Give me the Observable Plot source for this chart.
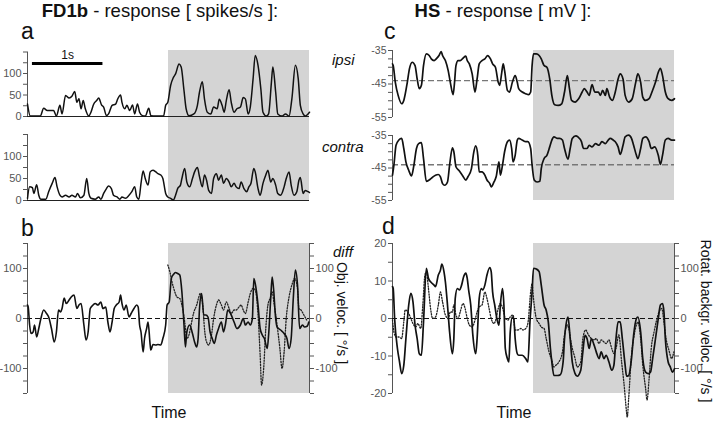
<!DOCTYPE html>
<html><head><meta charset="utf-8">
<script src="https://cdn.jsdelivr.net/npm/d3@7"></script>
<script src="https://cdn.jsdelivr.net/npm/@observablehq/plot@0.6"></script>
<style>
html,body{margin:0;padding:0;background:#fff;}
#fig{position:relative;width:720px;height:421px;overflow:hidden;font-family:"Liberation Sans",Arial,sans-serif;}
#fig svg{position:absolute;left:0;top:0;}
</style></head><body><div id="fig"></div>
<script>
// ---------- data (time in s) ----------
const timeDomain = [0, 4];
const stimulus = [{start: 2, end: 4}];
const scaleBar = [{t0: 0.07, t1: 1.07, level: 123, label: "1s"}];

const fdTicks = [0, 25, 50, 75, 100, 125, 150];
const fdLabels = [0, 50, 100];
const hsTicks = [-55, -52.5, -50, -47.5, -45, -42.5, -40, -37.5, -35];
const hsLabels = [-55, -45, -35];
const velTicks = [-150, -125, -100, -75, -50, -25, 0, 25, 50, 75, 100, 125, 150];
const velLabels = [-100, 0, 100];
const mvTicks = [-20, -15, -10, -5, 0, 5, 10, 15, 20];
const mvLabels = [-20, -10, 0, 10, 20];
const hsRest = [-44];

// FD1b ipsi [spikes/s]
const fdIpsi = [[0,29],[0.04,1],[0.18,1],[0.23,19],[0.28,14],[0.37,14],[0.41,1],[0.46,26],[0.49,6],[0.54,49],[0.59,43],[0.63,47],[0.67,58],[0.70,33],[0.73,41],[0.76,18],[0.79,37],[0.82,18],[0.87,1],[0.90,10],[0.94,29],[0.98,37],[1.01,43],[1.05,27],[1.08,22],[1.12,2],[1.15,6],[1.20,26],[1.25,29],[1.28,41],[1.32,50],[1.34,33],[1.38,18],[1.41,26],[1.45,14],[1.49,27],[1.52,6],[1.56,29],[1.59,10],[1.63,2],[1.67,1],[1.72,19],[1.75,2],[1.82,1],[1.93,1],[1.96,26],[1.99,33],[2.03,72],[2.07,91],[2.10,99],[2.15,122],[2.18,115],[2.22,60],[2.25,18],[2.29,2],[2.36,6],[2.41,26],[2.44,57],[2.48,81],[2.51,41],[2.55,10],[2.60,6],[2.64,22],[2.69,18],[2.72,40],[2.76,26],[2.79,10],[2.82,37],[2.86,62],[2.89,33],[2.93,10],[2.97,18],[3.02,22],[3.06,44],[3.09,41],[3.13,6],[3.16,22],[3.20,88],[3.23,142],[3.27,119],[3.31,64],[3.34,10],[3.39,1],[3.42,6],[3.46,80],[3.48,115],[3.52,57],[3.55,6],[3.61,1],[3.66,6],[3.71,1],[3.75,41],[3.80,119],[3.84,88],[3.87,26],[3.91,6],[3.94,1],[3.98,6],[4.00,10]];
// FD1b contra [spikes/s]
const fdContra = [[0,5],[0.03,31],[0.07,29],[0.09,16],[0.13,36],[0.16,12],[0.19,3],[0.26,3],[0.30,20],[0.35,39],[0.39,52],[0.42,31],[0.46,12],[0.49,8],[0.54,12],[0.59,8],[0.63,12],[0.68,8],[0.71,16],[0.75,6],[0.80,12],[0.84,50],[0.87,16],[0.90,5],[0.96,3],[1.01,8],[1.04,3],[1.08,16],[1.12,27],[1.15,33],[1.19,27],[1.22,12],[1.27,8],[1.31,3],[1.34,8],[1.39,5],[1.44,12],[1.48,20],[1.52,31],[1.55,8],[1.58,3],[1.61,39],[1.64,67],[1.67,50],[1.71,35],[1.74,65],[1.78,69],[1.82,65],[1.85,61],[1.89,58],[1.92,50],[1.96,16],[1.99,8],[2.03,5],[2.07,1],[2.10,12],[2.13,27],[2.17,35],[2.19,50],[2.23,73],[2.26,42],[2.30,31],[2.34,50],[2.37,65],[2.41,75],[2.44,54],[2.48,31],[2.51,58],[2.54,46],[2.57,23],[2.61,16],[2.64,50],[2.68,61],[2.71,46],[2.75,58],[2.78,39],[2.82,50],[2.86,42],[2.89,31],[2.93,39],[2.96,31],[3.00,27],[3.03,42],[3.07,27],[3.11,20],[3.14,31],[3.17,39],[3.21,73],[3.23,65],[3.27,27],[3.30,12],[3.34,39],[3.38,58],[3.41,69],[3.45,42],[3.48,50],[3.52,35],[3.55,16],[3.59,12],[3.64,31],[3.67,50],[3.71,65],[3.74,35],[3.78,12],[3.82,20],[3.85,46],[3.87,52],[3.91,16],[3.94,23],[3.98,20],[4.00,18]];
// HS ipsi [mV]
const hsIpsi = [[0,-39.0],[0.01,-39.5],[0.04,-44.5],[0.08,-48.4],[0.13,-50.9],[0.16,-49.9],[0.21,-44.5],[0.24,-40.5],[0.28,-38.5],[0.32,-39.5],[0.35,-43.5],[0.38,-46.4],[0.41,-45.4],[0.44,-39.5],[0.48,-36.0],[0.52,-36.5],[0.55,-37.5],[0.59,-38.0],[0.62,-37.5],[0.66,-36.5],[0.69,-35.3],[0.71,-36.5],[0.75,-38.0],[0.79,-41.0],[0.82,-44.5],[0.86,-48.2],[0.88,-44.5],[0.90,-39.5],[0.93,-38.0],[0.96,-38.0],[1.00,-37.3],[1.04,-36.7],[1.06,-38.0],[1.09,-39.0],[1.13,-42.0],[1.17,-47.4],[1.20,-43.5],[1.23,-39.0],[1.27,-38.0],[1.31,-37.5],[1.35,-36.5],[1.39,-37.5],[1.42,-39.0],[1.46,-40.0],[1.50,-44.5],[1.52,-45.4],[1.55,-41.5],[1.57,-39.0],[1.59,-41.0],[1.63,-46.9],[1.66,-47.4],[1.70,-44.5],[1.74,-42.5],[1.77,-44.5],[1.79,-46.4],[1.84,-47.4],[1.89,-47.9],[1.93,-48.2],[1.96,-47.4],[1.98,-39.5],[2.00,-36.0],[2.04,-36.0],[2.08,-36.5],[2.11,-37.5],[2.15,-39.5],[2.19,-40.0],[2.23,-43.5],[2.26,-48.4],[2.30,-51.2],[2.35,-51.4],[2.40,-50.9],[2.44,-47.4],[2.48,-42.5],[2.51,-46.4],[2.54,-49.9],[2.59,-50.4],[2.64,-49.4],[2.69,-47.4],[2.72,-46.4],[2.76,-47.4],[2.79,-48.4],[2.83,-45.2],[2.87,-47.4],[2.92,-47.4],[2.95,-48.4],[2.98,-46.9],[3.02,-48.4],[3.04,-46.4],[3.08,-48.9],[3.12,-49.9],[3.16,-47.4],[3.20,-43.5],[3.23,-42.0],[3.27,-43.5],[3.30,-48.4],[3.35,-50.4],[3.40,-49.4],[3.45,-44.5],[3.48,-42.0],[3.52,-44.5],[3.55,-48.9],[3.59,-49.9],[3.64,-49.4],[3.68,-47.4],[3.73,-44.5],[3.77,-41.5],[3.80,-40.3],[3.83,-42.5],[3.87,-47.4],[3.91,-49.4],[3.96,-49.9],[4.00,-49.4]];
// HS contra [mV]
const hsContra = [[0,-47.2],[0.02,-44.1],[0.05,-38.0],[0.09,-36.4],[0.13,-35.9],[0.16,-39.0],[0.19,-43.1],[0.23,-45.7],[0.27,-47.4],[0.30,-44.6],[0.34,-39.0],[0.37,-37.5],[0.41,-37.2],[0.44,-42.1],[0.48,-49.1],[0.52,-48.7],[0.56,-48.0],[0.61,-47.2],[0.65,-47.0],[0.68,-47.7],[0.71,-49.8],[0.74,-50.3],[0.78,-49.3],[0.81,-44.1],[0.85,-38.8],[0.87,-40.0],[0.90,-44.6],[0.94,-45.7],[0.99,-47.2],[1.04,-48.7],[1.07,-47.7],[1.12,-45.2],[1.15,-40.5],[1.18,-38.2],[1.21,-41.1],[1.23,-46.2],[1.27,-46.2],[1.31,-47.2],[1.34,-48.7],[1.38,-49.8],[1.40,-50.8],[1.44,-49.3],[1.47,-47.7],[1.51,-43.1],[1.53,-47.2],[1.56,-44.1],[1.59,-40.0],[1.63,-36.9],[1.66,-36.4],[1.69,-39.0],[1.71,-43.1],[1.74,-41.1],[1.77,-36.4],[1.79,-35.9],[1.84,-36.4],[1.89,-36.9],[1.92,-36.9],[1.96,-39.0],[1.98,-44.1],[2.01,-48.7],[2.05,-49.3],[2.09,-49.1],[2.11,-45.2],[2.15,-42.1],[2.19,-41.1],[2.23,-38.5],[2.26,-36.4],[2.29,-35.4],[2.34,-35.9],[2.37,-35.9],[2.41,-36.4],[2.44,-39.0],[2.49,-42.3],[2.52,-39.0],[2.55,-35.9],[2.60,-35.1],[2.63,-35.4],[2.68,-36.9],[2.71,-39.0],[2.76,-39.0],[2.79,-38.0],[2.83,-38.5],[2.88,-37.5],[2.93,-38.0],[2.97,-36.9],[3.02,-37.5],[3.06,-36.4],[3.09,-35.9],[3.13,-36.4],[3.16,-36.9],[3.20,-38.5],[3.23,-40.8],[3.27,-38.0],[3.30,-35.4],[3.35,-34.9],[3.39,-35.9],[3.42,-38.0],[3.46,-41.1],[3.48,-42.1],[3.52,-39.0],[3.55,-35.9],[3.59,-35.4],[3.64,-36.9],[3.67,-39.0],[3.72,-38.5],[3.77,-41.1],[3.80,-43.9],[3.83,-41.1],[3.87,-36.4],[3.91,-35.9],[3.96,-36.4],[4.00,-36.4]];
// FD1b diff [spikes/s]
const fdDiff = [[0,27],[0.01,23],[0.03,-13],[0.05,-30],[0.08,-27],[0.10,-13],[0.13,-37],[0.16,-20],[0.19,0],[0.23,17],[0.27,10],[0.30,3],[0.34,-20],[0.38,-47],[0.41,-27],[0.44,17],[0.47,13],[0.49,20],[0.52,41],[0.55,30],[0.59,37],[0.62,43],[0.66,47],[0.70,20],[0.73,27],[0.76,30],[0.80,-13],[0.83,-43],[0.86,-27],[0.89,20],[0.93,27],[0.96,30],[1.00,27],[1.04,33],[1.07,20],[1.11,23],[1.14,-7],[1.17,-27],[1.20,-7],[1.23,20],[1.26,27],[1.30,33],[1.32,47],[1.34,30],[1.37,17],[1.40,27],[1.44,3],[1.47,10],[1.51,20],[1.55,27],[1.57,23],[1.59,-13],[1.61,-27],[1.64,-67],[1.66,-40],[1.69,-20],[1.71,-7],[1.74,-53],[1.75,-63],[1.78,-52],[1.82,-53],[1.85,-52],[1.89,-53],[1.92,-40],[1.96,-13],[1.98,27],[2.01,33],[2.04,80],[2.07,88],[2.10,92],[2.13,90],[2.16,87],[2.19,53],[2.22,-13],[2.24,-57],[2.26,-27],[2.30,-13],[2.34,-30],[2.37,-47],[2.40,-57],[2.42,-40],[2.44,20],[2.47,50],[2.50,7],[2.53,7],[2.56,3],[2.59,-27],[2.62,-40],[2.65,-50],[2.68,-33],[2.71,-20],[2.75,-7],[2.78,-27],[2.81,-10],[2.84,17],[2.88,10],[2.93,-7],[2.97,-20],[3.02,-13],[3.06,0],[3.09,-13],[3.13,-7],[3.16,-13],[3.19,0],[3.21,80],[3.23,70],[3.27,27],[3.30,-20],[3.33,-33],[3.36,-40],[3.40,-60],[3.42,-33],[3.45,40],[3.47,83],[3.49,60],[3.52,0],[3.54,-17],[3.59,-23],[3.64,-30],[3.68,-40],[3.71,-60],[3.74,-40],[3.77,40],[3.80,97],[3.83,67],[3.86,-20],[3.90,-13],[3.93,-17],[3.97,-15],[3.99,-7]];
// object velocity [deg/s]
const objVel = [[1.99,107],[2.02,93],[2.05,73],[2.09,53],[2.12,43],[2.16,40],[2.19,27],[2.23,-7],[2.26,-40],[2.29,-33],[2.32,-13],[2.36,13],[2.40,27],[2.43,43],[2.45,50],[2.49,20],[2.51,-20],[2.54,-47],[2.57,-53],[2.61,-33],[2.64,0],[2.68,27],[2.71,37],[2.75,27],[2.78,17],[2.82,33],[2.86,20],[2.89,10],[2.93,17],[2.96,17],[3.00,23],[3.03,27],[3.06,17],[3.09,10],[3.13,33],[3.16,50],[3.20,60],[3.23,57],[3.27,7],[3.30,-73],[3.32,-133],[3.35,-100],[3.38,-20],[3.41,27],[3.44,40],[3.47,53],[3.50,27],[3.54,-13],[3.58,-60],[3.61,-100],[3.64,-67],[3.67,0],[3.71,43],[3.75,67],[3.79,80],[3.83,60],[3.85,20],[3.88,17],[3.92,7],[3.96,-3]];
// HS diff [mV]
const hsDiff = [[0,8.5],[0.01,8.0],[0.03,0],[0.07,-8.0],[0.10,-11.6],[0.13,-14.7],[0.16,-12.5],[0.19,-5.4],[0.23,3.6],[0.26,6.7],[0.29,4.5],[0.32,-1.8],[0.35,-5.4],[0.38,-9.4],[0.41,-9.8],[0.44,-0.9],[0.48,13.4],[0.51,10.7],[0.54,9.8],[0.59,8.9],[0.61,8.5],[0.65,11.6],[0.68,12.9],[0.70,14.5],[0.73,12.5],[0.75,9.8],[0.78,3.6],[0.81,-3.6],[0.85,-9.4],[0.87,-5.4],[0.89,5.4],[0.92,8.0],[0.95,7.6],[0.98,8.9],[1.01,11.2],[1.04,12.1],[1.06,10.7],[1.08,7.6],[1.11,3.6],[1.14,-4.5],[1.18,-9.4],[1.20,-5.4],[1.23,5.4],[1.26,8.0],[1.28,7.6],[1.31,8.9],[1.34,11.6],[1.38,13.6],[1.40,12.5],[1.42,7.1],[1.45,3.6],[1.48,0],[1.51,-1.8],[1.53,3.6],[1.56,8.0],[1.58,3.6],[1.60,-8.0],[1.63,-10.7],[1.65,-11.6],[1.67,-3.6],[1.70,0.4],[1.72,0],[1.74,-5.4],[1.77,-9.4],[1.79,-9.8],[1.84,-9.8],[1.89,-10.7],[1.92,-11.6],[1.95,-0.9],[1.98,7.1],[2.00,13.4],[2.04,13.2],[2.08,12.5],[2.11,8.9],[2.15,3.6],[2.18,2.2],[2.21,-0.9],[2.24,-8.0],[2.26,-11.6],[2.29,-15.2],[2.34,-15.2],[2.38,-15.0],[2.42,-11.6],[2.44,-5.4],[2.46,-1.8],[2.49,0.4],[2.52,-5.4],[2.55,-11.6],[2.59,-14.7],[2.62,-15.4],[2.67,-13.8],[2.70,-8.9],[2.73,-4.5],[2.76,-5.4],[2.79,-8.0],[2.82,-5.4],[2.86,-7.1],[2.89,-8.9],[2.93,-10.7],[2.96,-8.9],[3.00,-10.7],[3.03,-9.8],[3.07,-11.6],[3.11,-13.8],[3.14,-12.5],[3.17,-5.4],[3.20,-0.9],[3.23,-0.9],[3.26,-5.4],[3.30,-12.5],[3.32,-15.4],[3.35,-15.2],[3.39,-10.7],[3.42,-4.5],[3.46,0],[3.48,0.4],[3.52,-3.6],[3.55,-10.7],[3.59,-14.3],[3.63,-14.7],[3.66,-14.3],[3.69,-10.7],[3.73,-5.4],[3.77,0],[3.80,3.6],[3.83,4.0],[3.85,1.8],[3.87,-5.4],[3.91,-11.6],[3.94,-12.9],[3.97,-14.3],[4.00,-13.4]];
// rotational background velocity [deg/s]
const bgVel = [[0,-3],[0.02,-27],[0.05,-37],[0.09,-37],[0.13,-40],[0.16,-7],[0.18,17],[0.22,13],[0.26,0],[0.29,-10],[0.33,-17],[0.36,-10],[0.40,-20],[0.43,27],[0.46,87],[0.48,93],[0.51,60],[0.54,20],[0.57,0],[0.61,3],[0.65,27],[0.68,53],[0.71,33],[0.75,7],[0.79,0],[0.82,13],[0.85,13],[0.87,27],[0.90,7],[0.93,0],[0.96,13],[1.00,30],[1.03,20],[1.06,0],[1.09,-13],[1.13,-17],[1.17,-3],[1.20,13],[1.23,23],[1.27,27],[1.31,53],[1.34,40],[1.38,13],[1.40,0],[1.44,-10],[1.47,0],[1.50,20],[1.53,30],[1.57,17],[1.60,0],[1.64,-3],[1.67,3],[1.71,7],[1.74,-23],[1.78,-23],[1.82,-20],[1.85,-23],[1.89,-20],[1.92,-10],[1.96,53],[1.98,70],[2.00,40],[2.04,0],[2.08,-10],[2.11,-17],[2.15,-20],[2.18,-40],[2.22,-67],[2.26,-83],[2.29,-97],[2.32,-93],[2.36,-87],[2.41,-67],[2.44,-33],[2.48,-13],[2.50,-20],[2.54,-53],[2.59,-80],[2.62,-97],[2.67,-87],[2.70,-40],[2.74,-23],[2.78,-33],[2.82,-40],[2.86,-43],[2.89,-40],[2.93,-50],[2.96,-43],[3.00,-47],[3.03,-50],[3.07,-43],[3.11,-60],[3.14,-70],[3.17,-60],[3.21,-33],[3.25,-87],[3.29,-140],[3.31,-173],[3.33,-197],[3.35,-160],[3.39,-73],[3.42,-40],[3.46,-13],[3.48,-7],[3.52,-40],[3.55,-93],[3.59,-140],[3.61,-163],[3.64,-120],[3.67,-60],[3.71,-27],[3.74,-7],[3.78,13],[3.82,20],[3.85,-7],[3.88,-40],[3.92,-63],[3.96,-80],[3.99,-67]];

// ---------- drawing ----------
const W = 720, H = 421;
const fig = document.getElementById("fig");
const GRAY = "#d4d4d4", AX = "#555";
const LEFT = {marginLeft: 27, marginRight: 411};
const RIGHT = {marginLeft: 392, marginRight: 46};

function add(opts) {
  const svg = Plot.plot({width: W, height: H, x: {domain: timeDomain, axis: null}, ...opts});
  svg.style.background = "transparent";
  svg.style.position = "absolute";
  svg.style.left = "0px"; svg.style.top = "0px";
  svg.style.overflow = "visible";
  svg.style.fontFamily = "'Liberation Sans', Arial, sans-serif";
  fig.appendChild(svg);
}
const fmt = labels => d => labels.includes(d) ? String(d) : "";
const yAxis = (ticks, labels, anchor, size = 11) =>
  Plot.axisY(ticks, {anchor, tickSize: 4, tickPadding: 2, tickFormat: fmt(labels), color: AX, fontSize: size, label: null});
const trace = (data, extra = {}) => Plot.line(data, {x: d => d[0], y: d => d[1], stroke: "#111", strokeWidth: 1.6, curve: "monotone-x", ...extra});
const dotted = data => trace(data, {strokeWidth: 1.3, strokeDasharray: "1.2,1.6", stroke: "#222"});
const stimRect = Plot.rect(stimulus, {x1: "start", x2: "end", fill: GRAY});

// backgrounds of panels a and c (span both rows)
add({...LEFT, marginTop: 50, marginBottom: 221, marks: [stimRect]});
add({...RIGHT, marginTop: 50, marginBottom: 221, marks: [stimRect]});

// panel a: FD1b ipsi / contra
add({...LEFT, marginTop: 51.5, marginBottom: 305, y: {domain: [0, 150]}, marks: [
  Plot.ruleX([0], {stroke: AX}), Plot.ruleY([0], {stroke: "#222"}),
  yAxis(fdTicks, fdLabels, "left"),
  trace(fdIpsi, {strokeWidth: 1.5}),
  Plot.ruleY(scaleBar, {x1: "t0", x2: "t1", y: "level", stroke: "#000", strokeWidth: 3}),
  Plot.text(scaleBar, {x: d => (d.t0 + d.t1) / 2, y: "level", text: "label", dy: -8, fontSize: 12, fill: "#111"})
]});
add({...LEFT, marginTop: 134, marginBottom: 221, y: {domain: [0, 150]}, marks: [
  Plot.ruleX([0], {stroke: AX}), Plot.ruleY([0], {stroke: "#222"}),
  yAxis(fdTicks, fdLabels, "left"),
  trace(fdContra, {strokeWidth: 1.5})
]});

// panel c: HS ipsi / contra
add({...RIGHT, marginTop: 50, marginBottom: 304, y: {domain: [-55, -35]}, marks: [
  Plot.ruleX([0], {stroke: AX}),
  yAxis(hsTicks, hsLabels, "left", 10.5),
  Plot.ruleY(hsRest, {stroke: "#777", strokeWidth: 1.3, strokeDasharray: "6,3"}),
  trace(hsIpsi, {strokeWidth: 1.7})
]});
add({...RIGHT, marginTop: 135, marginBottom: 221, y: {domain: [-55, -35]}, marks: [
  Plot.ruleX([0], {stroke: AX}),
  yAxis(hsTicks, hsLabels, "left", 10.5),
  Plot.ruleY(hsRest, {stroke: "#777", strokeWidth: 1.3, strokeDasharray: "6,3"}),
  trace(hsContra, {strokeWidth: 1.7})
]});

// panel b: FD1b diff with object velocity
add({...LEFT, marginTop: 243, marginBottom: 28, y: {domain: [-150, 150]}, marks: [
  stimRect,
  Plot.ruleX([0, 4], {stroke: AX}),
  yAxis(velTicks, velLabels, "left"),
  yAxis(velTicks, velLabels, "right"),
  Plot.ruleY([0], {stroke: "#111", strokeDasharray: "5,3"}),
  dotted(objVel),
  trace(fdDiff, {strokeWidth: 1.6})
]});

// panel d: HS diff [mV] with background velocity [deg/s]
add({...RIGHT, marginTop: 243, marginBottom: 28, y: {domain: [-20, 20]}, marks: [
  stimRect,
  Plot.ruleX([0], {stroke: AX}),
  yAxis(mvTicks, mvLabels, "left"),
  Plot.ruleY([0], {stroke: "#111", strokeDasharray: "5,3"})
]});
add({...RIGHT, marginTop: 243, marginBottom: 28, y: {domain: [-150, 150]}, marks: [
  Plot.ruleX([4], {stroke: AX}),
  yAxis(velTicks, velLabels, "right"),
  dotted(bgVel)
]});
add({...RIGHT, marginTop: 243, marginBottom: 28, y: {domain: [-20, 20], axis: null}, marks: [
  trace(hsDiff, {strokeWidth: 1.7})
]});

// ---------- text ----------
const t = d3.select(fig).append("svg").attr("width", W).attr("height", H)
  .style("position", "absolute").style("left", 0).style("top", 0)
  .style("font-family", "'Liberation Sans', Arial, sans-serif").style("fill", "#111");
function title(x, y, bold, rest) {
  const e = t.append("text").attr("x", x).attr("y", y).attr("text-anchor", "middle").attr("font-size", 18.5);
  e.append("tspan").attr("font-weight", "bold").text(bold);
  e.append("tspan").text(rest);
}
title(160, 17, "FD1b", " - response [ spikes/s ]:");
title(503, 17, "HS", " - response [ mV ]:");
[["a", 21, 39], ["c", 384, 39], ["b", 21, 236], ["d", 382, 234]].forEach(([s, x, y]) =>
  t.append("text").attr("x", x).attr("y", y).attr("font-size", 23).text(s));
[["ipsi", 332, 65], ["contra", 322, 152], ["diff", 333, 257]].forEach(([s, x, y]) =>
  t.append("text").attr("x", x).attr("y", y).attr("font-size", 15).attr("font-style", "italic").text(s));
[["Obj. veloc. [ °/s ]", 342, 313], ["Rotat. backgr. veloc. [ °/s ]", 706, 321]].forEach(([s, x, y]) =>
  t.append("text").attr("transform", `translate(${x},${y}) rotate(90)`).attr("text-anchor", "middle")
    .attr("dominant-baseline", "central").attr("font-size", 14).text(s));
[["Time", 169], ["Time", 514]].forEach(([s, x]) =>
  t.append("text").attr("x", x).attr("y", 418).attr("text-anchor", "middle").attr("font-size", 16).text(s));
</script></body></html>
